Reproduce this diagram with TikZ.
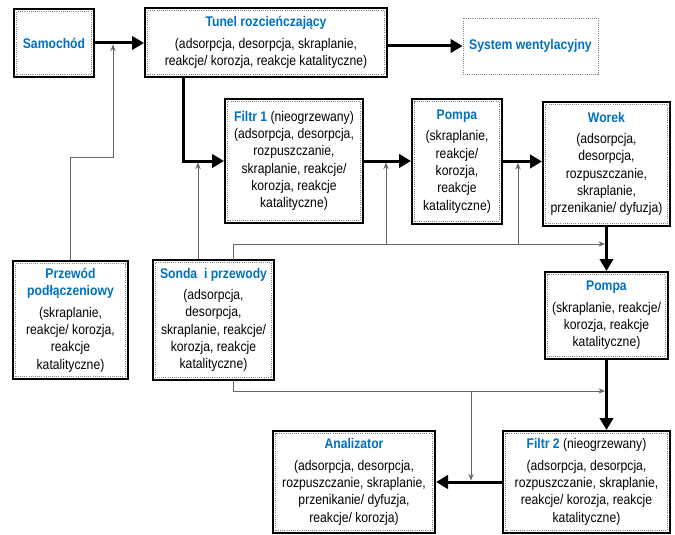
\documentclass[tikz,border=0pt]{standalone}
\usepackage{fontspec}
\setmainfont{Liberation Sans}[FakeStretch=0.87]
\usepackage{xcolor}
\usepackage{tikz}
\usetikzlibrary{arrows.meta}

\definecolor{tytul}{RGB}{0,112,192}
\newcommand{\tyt}[1]{\textcolor{tytul}{\textbf{#1}}}

\begin{document}
\begin{tikzpicture}[
    x=0.75pt, y=-0.75pt,
    box/.style={rectangle, draw, line width=1.5pt, align=center, inner sep=2pt,
        font=\fontsize{10.5}{13}\selectfont,
        path picture={\draw[gray, densely dotted, line width=0.6pt]
            ([shift={(2pt,2pt)}]path picture bounding box.south west) rectangle
            ([shift={(-2pt,-2pt)}]path picture bounding box.north east);}},
    plainbox/.style={rectangle, draw=gray, densely dotted, line width=0.6pt, align=center,
        font=\fontsize{10.5}{13}\selectfont},
    flow/.style={-{Triangle[length=9pt,width=10pt]}, line width=2.25pt},
    probe/.style={-{Stealth[length=5pt,width=4pt]}, gray!80!black, line width=0.75pt, shorten >=1.1pt}
]
\useasboundingbox (0,0) rectangle (675,535);

% main path
\node[box, minimum width=60pt, minimum height=51pt] (samochod) at (54,43) {\tyt{Samochód}};
\node[box, minimum width=181.5pt, minimum height=51.75pt] (tunel) at (266,42.5)
    {\tyt{Tunel rozcieńczający}\\[3pt](adsorpcja, desorpcja, skraplanie,\\reakcje/ korozja, reakcje katalityczne)};
\node[plainbox, minimum width=101.25pt, minimum height=42pt] (system) at (530.5,46) {\tyt{System wentylacyjny}};
\node[box, minimum width=103.5pt, minimum height=93pt] (filtr1) at (294,161)
    {\tyt{Filtr 1} (nieogrzewany)\\(adsorpcja, desorpcja,\\rozpuszczanie,\\skraplanie, reakcje/\\korozja, reakcje\\katalityczne)};
\node[box, minimum width=67.5pt, minimum height=93.75pt] (pompa1) at (457,161.5)
    {\tyt{Pompa}\\[3pt](skraplanie,\\reakcje/\\korozja,\\reakcje\\katalityczne)};
\node[box, minimum width=95.25pt, minimum height=93pt] (worek) at (606.5,164)
    {\tyt{Worek}\\[3pt](adsorpcja,\\desorpcja,\\rozpuszczanie,\\skraplanie,\\przenikanie/ dyfuzja)};
\node[box, minimum width=92.25pt, minimum height=65.25pt] (pompa2) at (606.5,315.5)
    {\tyt{Pompa}\\[3pt](skraplanie, reakcje/\\korozja, reakcje\\katalityczne)};
\node[box, minimum width=125.25pt, minimum height=76.5pt] (filtr2) at (586.5,482)
    {\tyt{Filtr 2} (nieogrzewany)\\[3pt](adsorpcja, desorpcja,\\rozpuszczanie, skraplanie,\\reakcje/ korozja, reakcje\\katalityczne)};
\node[box, minimum width=121.5pt, minimum height=76.5pt] (analizator) at (354,482)
    {\tyt{Analizator}\\[3pt](adsorpcja, desorpcja,\\rozpuszczanie, skraplanie,\\przenikanie/ dyfuzja,\\reakcje/ korozja)};

% side parts
\node[box, minimum width=86.25pt, minimum height=88.5pt] (przewod) at (70.5,320)
    {\tyt{Przewód}\\\tyt{podłączeniowy}\\[3pt](skraplanie,\\reakcje/ korozja,\\reakcje\\katalityczne)};
\node[box, minimum width=90.75pt, minimum height=90pt] (sonda) at (213.5,320)
    {\tyt{Sonda\ \ i przewody}\\[3pt](adsorpcja,\\desorpcja,\\skraplanie, reakcje/\\korozja, reakcje\\katalityczne)};

\draw[flow] (samochod.east) -- (tunel.west |- samochod.east);
\draw[flow] (tunel.east |- system.west) -- (system.west);
\draw[flow] (tunel.south west) ++(39,0) |- (filtr1.west);
\draw[flow] (filtr1.east) -- (pompa1.west |- filtr1.east);
\draw[flow] (pompa1.east) -- (worek.west |- pompa1.east);
\draw[flow] (worek.south) -- (pompa2.north);
\draw[flow] (pompa2.south) -- (pompa2.south |- filtr2.north);
\draw[flow] (filtr2.west |- analizator.east) -- (analizator.east);

% where the side lines join
\coordinate (p1) at (113,43);
\coordinate (p2) at (198,161);
\coordinate (p3) at (386,161);
\coordinate (p4) at (518,161.5);
\coordinate (p5) at (606.5,244);
\coordinate (p6) at (606.5,391);
\coordinate (p7) at (471,482);
\coordinate (sa) at (233,260);
\coordinate (sb) at (233,380);

\draw[probe] (przewod.north) -- ++(0,-103) -| (p1);
\draw[probe] (sonda.north -| p2) -- (p2);
\draw[probe] (sa) |- (p5);
\draw[probe] (p3 |- p5) -- (p3);
\draw[probe] (p4 |- p5) -- (p4);
\draw[probe] (sb) |- (p6);
\draw[probe] (p7 |- p6) -- (p7);

\end{tikzpicture}
\end{document}
